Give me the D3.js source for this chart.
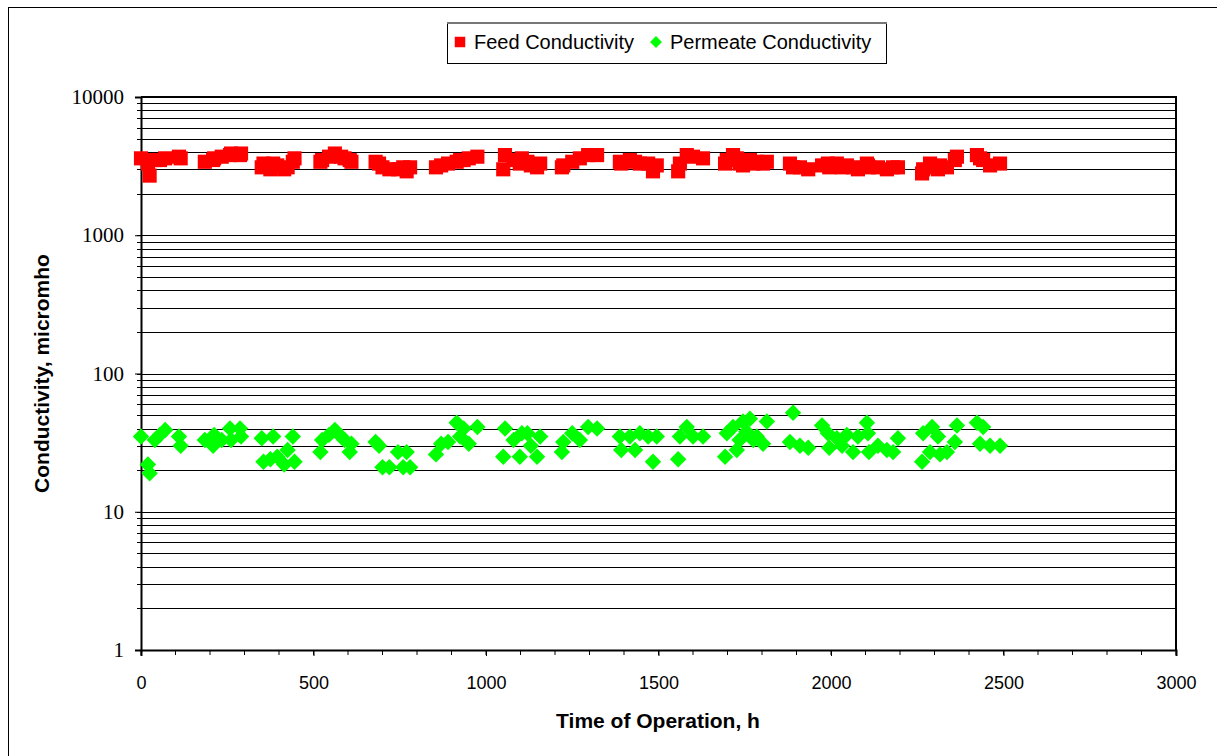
<!DOCTYPE html>
<html>
<head>
<meta charset="utf-8">
<script src="https://cdn.jsdelivr.net/npm/d3@7"></script>
<style>
body{margin:0;background:#fff}
</style>
</head>
<body>
<script>
var hours = [0,20,25,40,55,70,110,115,
	185,209,212,234,258,261,287,290,
	350,355,375,383,395,415,425,440,445,
	520,525,545,562,580,590,605,610,
	680,690,700,720,745,760,770,780,
	855,870,890,915,925,935,950,975,
	1050,1055,1080,1098,1104,1120,1130,1148,1157,
	1220,1224,1250,1272,1296,1322,
	1388,1392,1417,1432,1446,1470,1484,1495,
	1557,1562,1582,1600,1629,
	1693,1698,1716,1727,1735,1745,1755,1765,1775,1785,1803,1814,
	1881,1890,1910,1934,
	1974,1991,1995,2017,2032,2046,2064,2078,2104,2107,2110,2136,2162,2180,2194,
	2264,2267,2287,2293,2310,2316,2336,2359,2365,
	2423,2432,2441,2461,2490]

var feed = [3600,3300,2700,3500,3500,3600,3700,3600,
	3400,3500,3600,3700,3800,3900,3800,3900,
	3100,3300,3000,3300,3200,3000,3100,3400,3600,
	3400,3500,3700,3900,3700,3600,3500,3400,
	3400,3300,3100,3000,3000,3100,2900,3100,
	3100,3200,3300,3400,3500,3500,3600,3700,
	3000,3800,3500,3300,3600,3400,3200,3100,3300,
	3100,3200,3400,3600,3800,3800,
	3400,3300,3500,3400,3300,3300,2900,3200,
	2900,3300,3800,3700,3600,
	3300,3500,3800,3600,3300,3200,3400,3500,3300,3400,3300,3400,
	3300,3100,3100,3000,
	3200,3300,3100,3300,3100,3200,3100,3000,3300,3200,3100,3100,3000,3100,3100,
	2800,3000,3300,3100,3000,3200,3100,3500,3700,
	3800,3600,3500,3200,3300]

var permeate = [35,22,19,33,36,39,35,30,
	33,30,36,33,40,33,40,35,
	34,23,24,35,25,22,28,35,23,
	27,33,36,39,35,33,27,31,
	32,30,21,21,27,21,27,21,
	26,31,32,44,35,40,31,41,
	25,40,33,25,37,37,30,25,35,
	27,32,37,33,41,40,
	35,28,35,28,37,35,23,35,
	24,35,41,35,35,
	25,37,41,28,33,45,38,47,33,35,31,45,
	32,52,30,29,
	42,37,29,34,30,36,27,35,44,37,27,30,28,27,34,
	23,37,27,41,35,26,27,32,42,
	44,31,41,30,30]

var xTicks = [0,500,1000,1500,2000,2500,3000]
var yTicks = [1,10,100,1000,10000]
var seriesNames = ['Feed Conductivity','Permeate Conductivity']

var plotLeft=141, plotRight=1176, plotTop=97, plotBottom=650

var svg = d3.select('body').append('svg')
	.attr('width',1217)
	.attr('height',756)
	.style('display','block')

// outer chart frame
svg.append('rect')
	.attr('x',8.5).attr('y',7.5)
	.attr('width',1240).attr('height',780)
	.attr('fill','#fff').attr('stroke','#000').attr('stroke-width',1)

var xScale = d3.scaleLinear().domain([0,3000]).range([plotLeft,plotRight])
var yScale = d3.scaleLog().domain([1,10000]).range([plotBottom,plotTop])

// gridlines at every 1..9 x decade
var gridVals = []
for(var k=0;k<4;k++){
	for(var m=1;m<10;m++){ gridVals.push(m*Math.pow(10,k)) }
}
gridVals.push(10000)

svg.append('g').selectAll('line').data(gridVals)
	.enter().append('line')
	.attr('x1',plotLeft-4).attr('x2',plotRight)
	.attr('y1',function(d){ return Math.round(yScale(d))+0.5 })
	.attr('y2',function(d){ return Math.round(yScale(d))+0.5 })
	.attr('stroke','#000')
	.attr('stroke-width',1)

// plot border top/right
svg.append('line').attr('x1',plotLeft).attr('x2',plotRight+1).attr('y1',plotTop).attr('y2',plotTop)
	.attr('stroke','#000').attr('stroke-width',2)
svg.append('line').attr('x1',plotRight).attr('x2',plotRight).attr('y1',plotTop).attr('y2',plotBottom)
	.attr('stroke','#000').attr('stroke-width',2)

// y axis
var yAxis = d3.axisLeft(yScale).tickValues(yTicks).tickSize(6).tickFormat(d3.format('d'))
var yGuide = svg.append('g').attr('transform','translate('+plotLeft+',0)').call(yAxis)
yGuide.select('.domain').attr('stroke-width',2)
yGuide.selectAll('text')
	.style('font-family','"Liberation Serif","Times New Roman",serif')
	.style('font-size','21px')
	.attr('fill','#000')
	.attr('x',-17)

// x axis
var minorX = d3.range(0,3001,100)
svg.append('g').selectAll('line').data(minorX)
	.enter().append('line')
	.attr('x1',function(d){ return xScale(d) })
	.attr('x2',function(d){ return xScale(d) })
	.attr('y1',plotBottom).attr('y2',plotBottom+5)
	.attr('stroke','#000')
var xAxis = d3.axisBottom(xScale).tickValues(xTicks).tickSize(6).tickFormat(d3.format('d'))
var xGuide = svg.append('g').attr('transform','translate(0,'+plotBottom+')').call(xAxis)
xGuide.select('.domain').attr('stroke-width',2)
xGuide.selectAll('text')
	.style('font-family','"Liberation Sans",Arial,sans-serif')
	.style('font-size','18px')
	.attr('fill','#000')
	.attr('y',26)

// markers
var square = d3.symbol().type(d3.symbolSquare).size(200)
var diamond = d3.symbol().type(d3.symbolSquare).size(135)

svg.append('g').selectAll('path').data(hours)
	.enter().append('path')
	.attr('d',square)
	.attr('transform',function(d,i){ return 'translate('+xScale(d)+','+yScale(feed[i])+')' })
	.attr('fill','#ff0000')

svg.append('g').selectAll('path').data(hours)
	.enter().append('path')
	.attr('d',diamond)
	.attr('transform',function(d,i){ return 'translate('+xScale(d)+','+yScale(permeate[i])+') rotate(45)' })
	.attr('fill','#00ff00')

// axis titles
svg.append('text')
	.text('Time of Operation, h')
	.attr('x',658).attr('y',728)
	.attr('text-anchor','middle')
	.style('font-family','"Liberation Sans",Arial,sans-serif')
	.style('font-size','21px').style('font-weight','bold')

svg.append('text')
	.text('Conductivity, micromho')
	.attr('transform','translate(49,'+((plotTop+plotBottom)/2)+') rotate(-90)')
	.attr('text-anchor','middle')
	.style('font-family','"Liberation Sans",Arial,sans-serif')
	.style('font-size','21px').style('font-weight','bold')

// legend
var legend = svg.append('g')
legend.append('rect')
	.attr('x',447.5).attr('y',22.5).attr('width',439).attr('height',41)
	.attr('fill','#fff').attr('stroke','#000')
legend.append('line').attr('x1',447).attr('x2',887).attr('y1',23).attr('y2',23)
	.attr('stroke','#777').attr('stroke-width',2)
legend.append('path').attr('d',d3.symbol().type(d3.symbolSquare).size(110))
	.attr('transform','translate(460,42)').attr('fill','#ff0000')
legend.append('path').attr('d',d3.symbol().type(d3.symbolSquare).size(70))
	.attr('transform','translate(656,42) rotate(45)').attr('fill','#00ff00')
legend.selectAll('text').data(seriesNames)
	.enter().append('text')
	.text(function(d){ return d })
	.attr('x',function(d,i){ return i==0 ? 474 : 670 })
	.attr('y',49)
	.style('font-family','"Liberation Sans",Arial,sans-serif')
	.style('font-size','20px')
</script>
</body>
</html>
